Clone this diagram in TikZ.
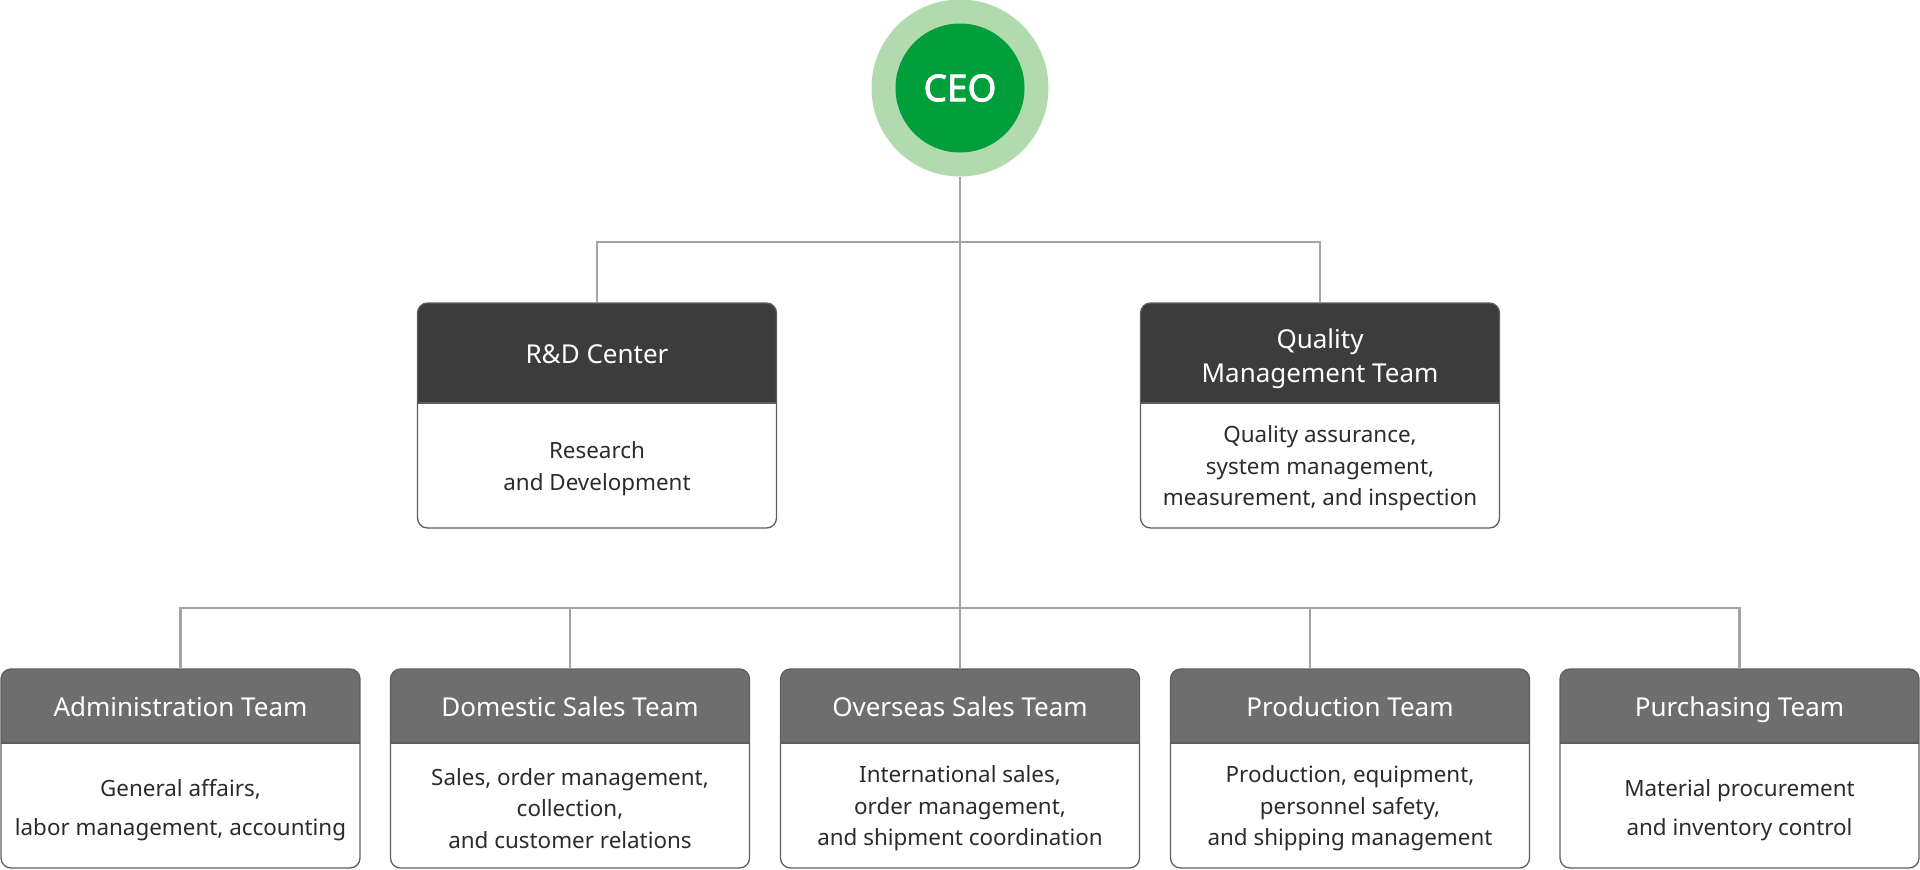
\documentclass[tikz,border=0pt]{standalone}
\usepackage{fontspec}
\setmainfont{Noto Sans}
\newfontfamily\ceofont{Noto Sans}[FakeBold=2.2]
\usetikzlibrary{calc}
\definecolor{ceoout}{HTML}{B1DAAF}
\definecolor{ceoin}{HTML}{009F3C}
\definecolor{darkhead}{HTML}{3C3C3C}
\definecolor{midhead}{HTML}{6E6E6E}
\definecolor{edgegray}{HTML}{5E5E5E}
\definecolor{conngray}{HTML}{A4A4A4}
\definecolor{textdark}{HTML}{2B2B2B}
\tikzset{
  conn/.style={draw=conngray, line width=2.6pt},
  boxframe/.style={draw=none, rectangle, minimum width=359pt, inner sep=0pt, outer sep=0pt},
  boxline/.style={draw=edgegray, line width=1.3pt},
  headtext/.style={text=white, align=center, font=\fontsize{26}{34}\selectfont},
  bodytext/.style={text=textdark, align=center, font=\fontsize{22.4}{31.5}\selectfont},
}
% #1 body options, #2 name, #3 cx, #4 top, #5 header h, #6 total h, #7 fill, #8 header, #9 body
\newcommand\orgbox[9][]{%
  \node[boxframe, minimum height=#6pt, anchor=north] (#2) at (#3,#4) {};
  \begin{scope}
    \clip[rounded corners=10pt] (#2.south west) rectangle (#2.north east);
    \fill[#7] (#2.north west) rectangle ([yshift=-#5pt]#2.north east);
  \end{scope}
  \draw[boxline] ([yshift=-#5pt]#2.north west) -- ([yshift=-#5pt]#2.north east);
  \draw[boxline, rounded corners=10pt] (#2.south west) rectangle (#2.north east);
  \node[headtext] (#2-h) at ($(#2.north)!0.5!([yshift=-#5pt]#2.north)+(0,3.5)$) {\strut #8};
  \node[bodytext,#1] (#2-b) at ($([yshift=-#5pt]#2.north)!0.5!(#2.south)+(0,3)$) {#9};
}
\begin{document}
\begin{tikzpicture}[x=1pt, y=-1pt]
\useasboundingbox (0,0) rectangle (1920,870);
% CEO
\node[circle, fill=ceoout, minimum size=177pt, inner sep=0pt] (ceoring) at (960,88) {};
\node[circle, fill=ceoin, minimum size=129pt, inner sep=0pt, text=white,
      font=\ceofont\fontsize{37}{40}\selectfont] (ceo) at (960,88) {CEO};
% boxes
\orgbox{rd}{597}{303}{100}{225}{darkhead}{R\&D Center}{Research\\and Development}
\orgbox{qm}{1320}{303}{100}{225}{darkhead}{Quality\\Management Team}{Quality assurance,\\system management,\\measurement, and inspection}
\orgbox[font=\fontsize{22.4}{39}\selectfont, yshift=-1.5pt]{adm}{180.5}{669}{74}{199}{midhead}{Administration Team}{General affairs,\\labor management, accounting}
\orgbox{dom}{570}{669}{74}{199}{midhead}{Domestic Sales Team}{Sales, order management,\\collection,\\and customer relations}
\orgbox{ovs}{960}{669}{74}{199}{midhead}{Overseas Sales Team}{International sales,\\order management,\\and shipment coordination}
\orgbox{prd}{1350}{669}{74}{199}{midhead}{Production Team}{Production, equipment,\\personnel safety,\\and shipping management}
\orgbox[font=\fontsize{22.4}{39}\selectfont, yshift=-1.5pt]{pur}{1739.5}{669}{74}{199}{midhead}{Purchasing Team}{Material procurement\\and inventory control}
% connectors
\coordinate (bus1) at (960,242);
\coordinate (bus2) at (960,608);
\coordinate (pc) at ([xshift=-40pt]prd.north);
\draw[conn] (ceoring.south) -- (ovs.north);
\draw[conn] (rd.north) |- (bus1) -| (qm.north);
\draw[conn] (adm.north) |- (bus2) -| (pur.north);
\draw[conn] (dom.north) -- (dom.north |- bus2);
\draw[conn] (pc) -- (pc |- bus2);
\end{tikzpicture}
\end{document}
